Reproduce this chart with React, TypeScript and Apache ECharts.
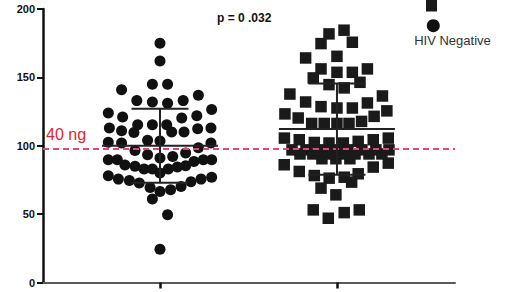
import React, { useEffect, useRef } from "react";
import * as echarts from "echarts";

// Group positions on the x axis
const groupCenters = [1, 2];
const groupNames = ["HIV Negative", "HIV Positive"];

// HIV Negative (circles): horizontal jitter (in group units) and values
const circleOffset = [
  0, 0, -0.217, -0.043, 0.043, 0.217, -0.131, -0.043, 0.043, 0.131,
  -0.292, 0.292, -0.211, 0.123, 0.208, -0.286, -0.217, -0.126, -0.147, -0.043,
  0.038, 0.066, 0.136, 0.213, 0.288, -0.292, -0.217, -0.07, 0, -0.141,
  0.217, 0.288, -0.292, -0.241, -0.07, 0, 0.072, 0.145, -0.198, -0.141,
  -0.09, -0.043, 0, 0.047, 0.098, 0.145, 0.192, 0.245, 0.292, -0.292,
  -0.235, -0.173, -0.117, -0.056, 0, 0.06, 0.119, 0.175, 0.232, 0.292,
  -0.043, 0.043, 0,
];
const circleValue = [
  175, 162, 141, 145, 145, 137, 133, 132, 131, 133,
  124, 126.5, 121, 120.3, 122, 113, 111, 115.4, 109.7, 115.4,
  115.4, 110, 110, 112.5, 113, 102.5, 102, 104, 103.5, 96.5,
  98.5, 102, 89.7, 89.7, 93.4, 91, 92.2, 94.7, 86, 85,
  83, 83, 80, 83, 84.4, 85.3, 88.5, 89.7, 89.7, 78,
  75.6, 74.6, 72.7, 69.4, 66.5, 67.8, 70.2, 73.6, 75.6, 77,
  61, 49.5, 24.3,
];

// HIV Positive (squares): horizontal jitter and values
const squareOffset = [
  0.04, -0.045, -0.09, 0.087, -0.177, 0, -0.09, 0, 0.087, 0.172,
  -0.134, -0.045, 0.041, 0.13, -0.266, -0.177, -0.09, 0, 0.087, 0.172,
  0.257, -0.294, -0.219, -0.143, -0.072, 0, 0.068, 0.139, 0.21, 0.282,
  -0.297, -0.213, -0.128, -0.045, 0.036, 0.12, 0.205, 0.29,
  -0.254, -0.175, -0.096, -0.017, 0.062, 0.141, 0.22, 0.294,
  -0.209, -0.136, -0.056, 0.023, 0.102, 0.181, 0.254,
  -0.085, -0.006, 0.073,
  -0.298, 0.29, 0.205, -0.213, -0.128, -0.044, 0.041, 0.12, 0.083, -0.09,
  -0.006, -0.134, -0.049, 0.041, 0.126,
];
const squareValue = [
  184.5, 181.8, 174.7, 175.7, 164.2, 165.4, 156.2, 153.7, 153.7, 156.2,
  149.6, 144.7, 142.3, 146.4, 137.8, 132, 128.6, 127.6, 127.6, 131.3,
  136.4, 123.3, 120.3, 116.3, 116.3, 116.3, 116.3, 117.8, 121.5, 125.5,
  105.6, 104.4, 102.4, 102, 102, 103.2, 104.4, 105.6,
  97, 97, 97, 97, 97, 97, 97, 97,
  94, 94, 94, 94, 94, 94, 94,
  90.5, 90.5, 90.5,
  86.1, 87.3, 84.4, 81.2, 78.2, 76.3, 77, 79.5, 73.4, 69,
  64.1, 53.1, 47, 51.1, 53.1,
];

// Summary statistics (mean ± SD) per group
const groupMean = [100, 112.2];
const groupSD = [27, 33.4];

// Reference threshold
const thresholdValue = 97.5;
const thresholdLabel = "40 ng";
const pValueText = "p = 0 .032";

// Y axis ticks
const yMin = 0;
const yMax = 200;
const yInterval = 50;

export default function App() {
  const ref = useRef<HTMLDivElement>(null);

  useEffect(() => {
    if (!ref.current) return;
    const chart = echarts.init(ref.current, null, { renderer: "svg" });

    const circleData = circleOffset.map((o, i) => [groupCenters[0] + o, circleValue[i]]);
    const squareData = squareOffset.map((o, i) => [groupCenters[1] + o, squareValue[i]]);
    const statData = groupCenters.map((c, i) => [c, groupMean[i], groupSD[i]]);

    const option: any = {
      animation: false,
      grid: { left: 43, right: 64, top: 9, bottom: 9.5, containLabel: false },
      xAxis: {
        type: "value",
        min: 0.339,
        max: 2.667,
        splitLine: { show: false },
        axisLabel: { show: false },
        axisLine: { show: true, lineStyle: { color: "#5a5a5a", width: 2 } },
        axisTick: {
          show: true,
          customValues: groupCenters,
          length: 6,
          lineStyle: { color: "#111", width: 2.5 },
        },
      },
      yAxis: {
        type: "value",
        min: yMin,
        max: yMax,
        interval: yInterval,
        splitLine: { show: false },
        axisLine: { show: true, lineStyle: { color: "#111", width: 2.5 } },
        axisTick: { show: true, length: 6, lineStyle: { color: "#111", width: 2 } },
        axisLabel: {
          margin: 8,
          color: "#111",
          fontFamily: "Liberation Sans, Arial, sans-serif",
          fontWeight: "bold",
          fontSize: 11,
        },
      },
      series: [
        {
          name: groupNames[0],
          type: "scatter",
          symbol: "circle",
          symbolSize: 11,
          itemStyle: { color: "#111", opacity: 1 },
          data: circleData,
          z: 2,
          markLine: {
            silent: true,
            symbol: ["none", "none"],
            label: { show: false },
            lineStyle: { color: "#e2467c", type: [6, 4], width: 2, opacity: 1 },
            data: [{ yAxis: thresholdValue }],
          },
        },
        {
          name: groupNames[1],
          type: "scatter",
          symbol: "rect",
          symbolSize: 11.5,
          itemStyle: { color: "#1a1a1a", opacity: 1 },
          data: squareData,
          z: 2,
        },
        {
          type: "custom",
          z: 5,
          data: statData,
          renderItem: (params: any, api: any) => {
            const c = api.value(0);
            const m = api.value(1);
            const sd = api.value(2);
            const pMean = api.coord([c, m]);
            const pUp = api.coord([c, m + sd]);
            const pLo = api.coord([c, m - sd]);
            const meanHalf = 58;
            const capHalf = 28.5;
            const style = { stroke: "#222", lineWidth: 2 };
            return {
              type: "group",
              children: [
                { type: "line", shape: { x1: pMean[0] - meanHalf, y1: pMean[1], x2: pMean[0] + meanHalf, y2: pMean[1] }, style },
                { type: "line", shape: { x1: pUp[0], y1: pUp[1], x2: pLo[0], y2: pLo[1] }, style },
                { type: "line", shape: { x1: pUp[0] - capHalf, y1: pUp[1], x2: pUp[0] + capHalf, y2: pUp[1] }, style },
                { type: "line", shape: { x1: pLo[0] - capHalf, y1: pLo[1], x2: pLo[0] + capHalf, y2: pLo[1] }, style },
              ],
            };
          },
        },
      ],
      graphic: [
        {
          type: "text",
          left: 46,
          top: 126,
          style: {
            text: thresholdLabel,
            fill: "#d8282f",
            font: "16px 'Liberation Sans', Arial, sans-serif",
          },
        },
        {
          type: "text",
          left: 217,
          top: 12,
          style: {
            text: pValueText,
            fill: "#111",
            font: "bold 12px 'Liberation Sans', Arial, sans-serif",
          },
        },
        {
          type: "rect",
          shape: { x: 426, y: 0, width: 11, height: 11.5 },
          style: { fill: "#1a1a1a" },
        },
        {
          type: "circle",
          shape: { cx: 433.3, cy: 25.7, r: 6.5 },
          style: { fill: "#111" },
        },
        {
          type: "text",
          x: 452.5,
          y: 40.5,
          style: {
            text: groupNames[0],
            fill: "#333",
            font: "13px 'Liberation Sans', Arial, sans-serif",
            align: "center",
            verticalAlign: "middle",
          },
        },
      ],
    };

    chart.setOption(option);
    return () => chart.dispose();
  }, []);

  return (
    <div
      ref={ref}
      style={{ position: "fixed", left: 0, top: 0, width: 519, height: 292, background: "#fff" }}
    />
  );
}
